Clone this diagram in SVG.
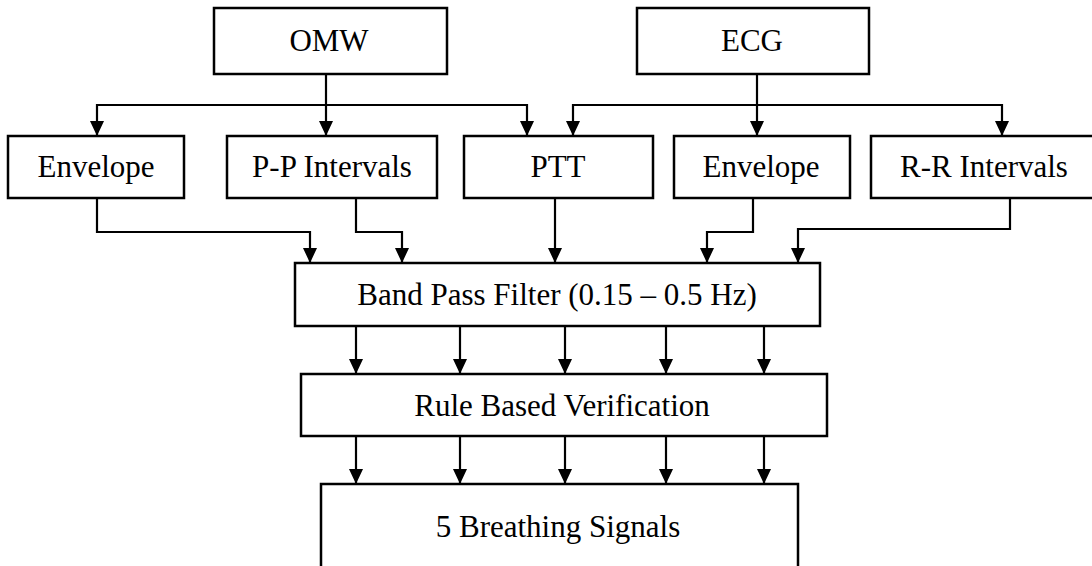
<svg xmlns="http://www.w3.org/2000/svg" width="1092" height="566" viewBox="0 0 1092 566">
<style>
.box{fill:#fff;stroke:#000;stroke-width:2.5}
.lbl{font-family:"Liberation Serif","Times New Roman",serif;font-size:31px;fill:#000;text-anchor:middle}
.con{fill:none;stroke:#000;stroke-width:2.2;marker-end:url(#ah)}
.con2{fill:none;stroke:#000;stroke-width:2.2}
</style>
<defs>
<marker id="ah" markerUnits="userSpaceOnUse" markerWidth="16" markerHeight="14" refX="15" refY="7" orient="auto">
<path d="M0,0 L15,7 L0,14 z" fill="#000"/>
</marker>
</defs>
<rect width="1092" height="566" fill="#fff"/>
<g id="connectors">
<path class="con" d="M326,74 V136"/>
<path class="con" d="M326,105 H97 V136"/>
<path class="con" d="M326,105 H527 V136"/>
<path class="con" d="M757,74 V136"/>
<path class="con" d="M757,105 H573 V136"/>
<path class="con" d="M757,105 H1002 V136"/>
<path class="con" d="M97,198 V232 H310 V263"/>
<path class="con" d="M356,198 V232 H402 V263"/>
<path class="con" d="M555,198 V263"/>
<path class="con" d="M753,198 V232 H707 V263"/>
<path class="con" d="M1010,198 V229 H798 V263"/>
<path class="con" d="M356,326 V374"/>
<path class="con" d="M460,326 V374"/>
<path class="con" d="M565,326 V374"/>
<path class="con" d="M666,326 V374"/>
<path class="con" d="M764,326 V374"/>
<path class="con" d="M356,436 V484"/>
<path class="con" d="M460,436 V484"/>
<path class="con" d="M565,436 V484"/>
<path class="con" d="M666,436 V484"/>
<path class="con" d="M764,436 V484"/>
</g>
<g id="omw"><rect class="box" x="214" y="8" width="233" height="66"/><text class="lbl" x="329" y="51">OMW</text></g>
<g id="ecg"><rect class="box" x="637" y="8" width="232" height="66"/><text class="lbl" x="752" y="51">ECG</text></g>
<g id="envelope1"><rect class="box" x="8" y="136" width="176" height="62"/><text class="lbl" x="96" y="177">Envelope</text></g>
<g id="pp"><rect class="box" x="227" y="136" width="210" height="62"/><text class="lbl" x="332" y="177">P-P Intervals</text></g>
<g id="ptt"><rect class="box" x="464" y="136" width="189" height="62"/><text class="lbl" x="558" y="177">PTT</text></g>
<g id="envelope2"><rect class="box" x="674" y="136" width="176" height="62"/><text class="lbl" x="761" y="177">Envelope</text></g>
<g id="rr"><rect class="box" x="871" y="136" width="224" height="62"/><text class="lbl" x="984" y="177">R-R Intervals</text></g>
<g id="bpf"><rect class="box" x="295" y="263" width="525" height="63"/><text class="lbl" x="557" y="305">Band Pass Filter (0.15 – 0.5 Hz)</text></g>
<g id="rbv"><rect class="box" x="301" y="374" width="526" height="62"/><text class="lbl" x="562" y="416">Rule Based Verification</text></g>
<g id="signals"><rect class="box" x="321" y="484" width="477" height="86"/><text class="lbl" x="558" y="537">5 Breathing Signals</text></g>
</svg>
